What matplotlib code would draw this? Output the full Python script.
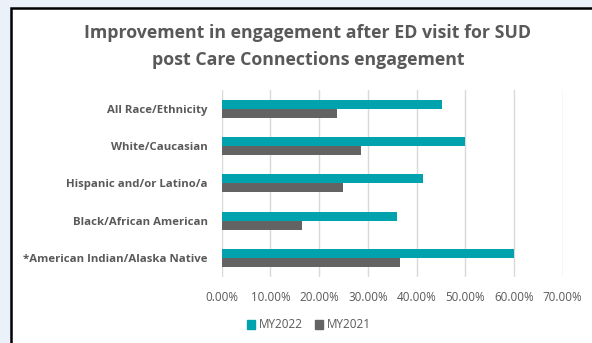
import matplotlib
matplotlib.use("Agg")
from matplotlib import pyplot as plt
from matplotlib.patches import Rectangle, Patch
from matplotlib.ticker import PercentFormatter
import numpy as np

categories = ["All Race/Ethnicity", "White/Caucasian", "Hispanic and/or Latino/a",
              "Black/African American", "*American Indian/Alaska Native"]
my2022 = [45.2, 50.0, 41.3, 35.9, 60.0]
my2021 = [23.7, 28.5, 24.9, 16.4, 36.6]
xticks = [0, 10, 20, 30, 40, 50, 60, 70]

teal = '#00A2AD'
grey = '#636363'
txt = '#595959'
plt.rcParams['font.family'] = ['Open Sans', 'DejaVu Sans']

fig = plt.figure(figsize=(5.92, 3.43), dpi=100)
fig.patch.set_facecolor('#EAF1F9')

# white chart box with black border, in a background axes
bg = fig.add_axes([0, 0, 1, 1], zorder=-1)
bg.set_xlim(0, 592)
bg.set_ylim(343, 0)
bg.axis('off')
bg.add_patch(Rectangle((11, 8), 600, 360, facecolor='white', edgecolor='black', linewidth=1.8))

ax = fig.add_axes([221.7/592, 1 - 276.7/343, 341/592, 186.7/343])
ax.set_facecolor('none')

y = np.arange(len(categories))[::-1]
h = 0.242
ax.barh(y + h/2, my2022, height=h, color=teal, label='MY2022')
ax.barh(y - h/2, my2021, height=h, color=grey, label='MY2021')

ax.set_xlim(0, 70)
ax.set_ylim(-0.5, 4.5)
ax.set_xticks(xticks)
ax.xaxis.set_major_formatter(PercentFormatter(decimals=2))
ax.set_yticks(y)
ax.set_yticklabels(categories, fontsize=8.2, fontweight='bold', color=txt)
ax.tick_params(axis='x', colors=txt, labelsize=8.4, length=0, pad=10)
ax.tick_params(axis='y', length=0, pad=10)
ax.grid(axis='x', color='#D9D9D9', linewidth=1)
ax.set_axisbelow(True)
for s in ax.spines.values():
    s.set_visible(False)

fig.text(308/592, 1 - 33/343, "Improvement in engagement after ED visit for SUD",
         ha='center', va='center', fontsize=12.8, fontweight='bold', color=txt)
fig.text(308/592, 1 - 60/343, "post Care Connections engagement",
         ha='center', va='center', fontsize=12.8, fontweight='bold', color=txt)

handles = [Patch(color=teal), Patch(color=grey)]
fig.legend(handles, ['MY2022', 'MY2021'], loc='center', bbox_to_anchor=(309/592, 1 - 325/343),
           ncol=2, frameon=False, fontsize=8.5, labelcolor=txt, handlelength=0.7, handleheight=0.7,
           handletextpad=0.3, columnspacing=1.0)

fig.savefig('out.png', dpi=100, facecolor=fig.get_facecolor())
